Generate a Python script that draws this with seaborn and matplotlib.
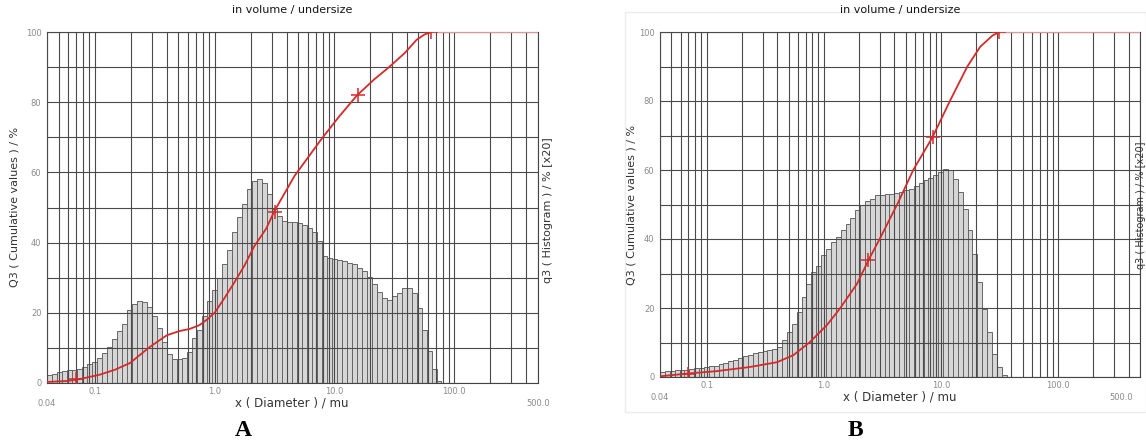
import numpy as np
import matplotlib
matplotlib.use("Agg")
import matplotlib.pyplot as plt
import seaborn as sns
from matplotlib.ticker import FixedLocator, NullFormatter

# histogramas q3 (x20), una barra por clase logaritmica desde 0.04 mu
x_inicio = 0.04
clases_por_decada = 24

hist_a = [2.2, 2.7, 3.0, 3.3, 3.6, 3.8, 4.1, 4.6, 5.3, 6.0, 7.0, 8.5, 10.2, 12.4,
          14.7, 16.9, 20.8, 22.4, 23.3, 23.0, 21.7, 19.0, 15.7, 11.7, 8.4, 6.9,
          6.7, 7.1, 8.9, 12.9, 15.2, 19.0, 23.3,
          26.5, 30.0, 34.0, 38.0, 42.9, 47.4, 51.0, 55.2, 57.6, 58.1, 57.0, 53.8,
          49.5, 47.6, 46.2, 45.9, 45.9, 45.7, 45.0, 44.3, 42.9, 40.5, 36.2, 35.7,
          35.4, 35.0, 34.8, 34.3, 33.8, 32.9, 31.9, 30.3, 28.1, 25.9, 24.3, 23.6,
          24.8, 25.7, 27.1, 27.1, 25.5, 21.4, 15.2, 9.0, 4.0, 0.5]

hist_b = [1.4, 1.6, 1.7, 1.9, 2.0, 2.1, 2.3, 2.5, 2.7, 2.9, 3.1, 3.3, 3.7, 4.1,
          4.5, 5.0, 5.6, 6.1, 6.5, 7.0, 7.3, 7.5, 7.7, 8.0, 8.7, 10.6, 13.0, 15.5,
          18.8, 23.2, 27.1, 30.4, 32.1, 35.3, 37.2, 39.1, 40.6, 42.5, 44.4, 46.2,
          48.3, 49.8, 51.0, 51.7,
          52.7, 52.8, 53.0, 53.0, 53.2, 53.6, 54.1, 54.6, 55.4, 56.3, 57.0, 57.8,
          58.5, 59.4, 60.2, 60.1, 57.5, 53.6, 48.8, 42.5, 35.7, 27.5, 19.8, 13.0,
          6.8, 2.9, 0.5]

# curvas acumuladas Q3
cum_a_x = [0.04, 0.06, 0.075, 0.111, 0.148, 0.197, 0.289, 0.4, 0.51, 0.62, 0.75,
           0.86, 1.0, 1.2, 1.46, 1.78, 2.15, 2.7, 3.16, 4.65, 7.8, 11.0, 15.5,
           21.5, 28.6, 38.6, 48.6, 56.6, 64.6]
cum_a_y = [0.3, 0.6, 1.1, 2.4, 3.8, 5.7, 10.3, 13.6, 14.8, 15.4, 16.5, 18.0, 20.0,
           24.0, 28.6, 33.5, 39.0, 44.0, 49.0, 59.0, 69.5, 76.0, 82.0, 86.5, 90.0,
           94.0, 97.8, 99.3, 100.0]
cum_b_x = [0.04, 0.069, 0.122, 0.234, 0.4, 0.548, 0.76, 1.06, 1.37, 1.92, 2.4,
           3.0, 4.3, 5.8, 8.5, 12.0, 16.8, 21.6, 27.6, 31.6]
cum_b_y = [0.2, 1.0, 1.7, 2.9, 4.3, 6.3, 10.1, 15.0, 19.8, 27.0, 33.8, 40.0, 50.5,
           60.0, 69.6, 80.2, 90.0, 95.7, 99.0, 100.0]

# marcas '+'
marca_a_x = [0.07, 3.18, 15.6, 64.6]
marca_a_y = [1.0, 48.7, 82.0, 100.0]
marca_b_x = [0.069, 2.4, 8.5, 31.6]
marca_b_y = [1.0, 33.8, 69.6, 100.0]

x_max = 500
ROJO = '#d42a2a'
W, H = 1146, 441

sns.set_style('white')
plt.rcParams['font.family'] = ['DejaVu Sans']

fig = plt.figure(figsize=(W / 100, H / 100), dpi=100)


def px(x, y):
    return x / W, 1 - y / H


def panel(rect, hist, cx, cy, mx, my, ha_500='center'):
    ax = fig.add_axes(rect)
    bordes = x_inicio * 10 ** (np.arange(len(hist) + 1) / clases_por_decada)
    centros = np.sqrt(bordes[:-1] * bordes[1:])
    sns.histplot(x=centros, weights=hist, bins=list(np.log10(bordes)),
                 log_scale=True, stat='count', color='#d6d6d6',
                 edgecolor='#666666', linewidth=0.7, alpha=1, ax=ax)
    sns.lineplot(x=cx, y=cy, color=ROJO, lw=1.3, ax=ax, zorder=4)
    sns.lineplot(x=[cx[-1], x_max], y=[100, 100], color='#f2a0a0', lw=1.3,
                 ax=ax, zorder=4)
    sns.scatterplot(x=mx, y=my, marker='+', s=90, color=ROJO, linewidth=1.1,
                    ax=ax, zorder=5)

    ax.set_xlim(x_inicio, x_max)
    ax.set_ylim(0, 100)
    ax.set_xlabel('')
    ax.set_ylabel('')

    menores = [k * 10.0 ** e for e in range(-2, 3) for k in range(2, 10)]
    menores = [v for v in menores if x_inicio <= v <= x_max]
    ax.xaxis.set_major_locator(FixedLocator([0.1, 1, 10, 100]))
    ax.xaxis.set_minor_locator(FixedLocator(menores))
    ax.xaxis.set_minor_formatter(NullFormatter())
    ax.set_xticklabels(['0.1', '1.0', '10.0', '100.0'])
    ax.set_yticks(range(0, 101, 10))
    ax.set_yticklabels([str(v) if v % 20 == 0 else '' for v in range(0, 101, 10)])

    ax.set_axisbelow(False)
    ax.grid(True, which='both', axis='x', color='#4a4a4a', lw=0.8)
    ax.grid(True, which='major', axis='y', color='#4a4a4a', lw=0.8)
    ax.tick_params(axis='x', which='both', length=0, labelsize=6,
                   labelcolor='#8a8a8a', pad=3)
    ax.tick_params(axis='y', length=3, color='#8a8a8a', labelsize=6,
                   labelcolor='#8a8a8a', pad=1)
    for s in ax.spines.values():
        s.set_color('#444444')
        s.set_linewidth(0.8)

    tr = ax.get_xaxis_transform()
    ax.text(x_inicio, -0.045, '0.04', transform=tr, ha='center', va='top',
            fontsize=6, color='#8a8a8a')
    ax.text(x_max, -0.045, '500.0', transform=tr, ha=ha_500, va='top',
            fontsize=6, color='#8a8a8a')
    return ax


# A
l, b = px(47, 383)
r, t = px(538, 32)
panel([l, b, r - l, t - b], hist_a, cum_a_x, cum_a_y, marca_a_x, marca_a_y)
# B
l, b = px(660, 377)
r, t = px(1140, 32)
ax_b = panel([l, b, r - l, t - b], hist_b, cum_b_x, cum_b_y, marca_b_x,
             marca_b_y, ha_500='left')
# el 500.0 de B queda pegado al borde derecho
ax_b.texts[-1].set_x(ax_b.get_xlim()[1])
ax_b.texts[-1].set_ha('right')
ax_b.texts[-1].set_position((440, -0.045))

# marco tenue de la imagen B
x0, y0 = px(625, 412)
fig.add_artist(plt.Rectangle((x0, y0), 1 - x0, (412 - 12) / H,
                             transform=fig.transFigure, fill=False,
                             ec='#ececec', lw=1))

textos = [
    (292, 10, 'in volume / undersize', 0, 8, '#151515'),
    (900, 10, 'in volume / undersize', 0, 8, '#151515'),
    (292, 403, 'x ( Diameter ) / mu', 0, 8.5, '#333333'),
    (900, 397, 'x ( Diameter ) / mu', 0, 8.5, '#333333'),
    (15, 207, 'Q3 ( Cumulative values ) / %', 90, 8, '#333333'),
    (632, 205, 'Q3 ( Cumulative values ) / %', 90, 8, '#333333'),
    (548, 210, 'q3 ( Histogram ) / % [x20]', 90, 8, '#333333'),
    (1141, 205, 'q3 ( Histogram ) / % [x20]', 90, 7, '#333333'),
]
for x, y, s, rot, fs, c in textos:
    fx, fy = px(x, y)
    fig.text(fx, fy, s, rotation=rot, ha='center', va='center', fontsize=fs, color=c)

for x, s in [(243, 'A'), (855, 'B')]:
    fx, fy = px(x, 430)
    fig.text(fx, fy, s, ha='center', va='center', fontsize=17, fontweight='bold',
             family=['Liberation Serif'], color='black')

fig.savefig('out.png', dpi=100)
